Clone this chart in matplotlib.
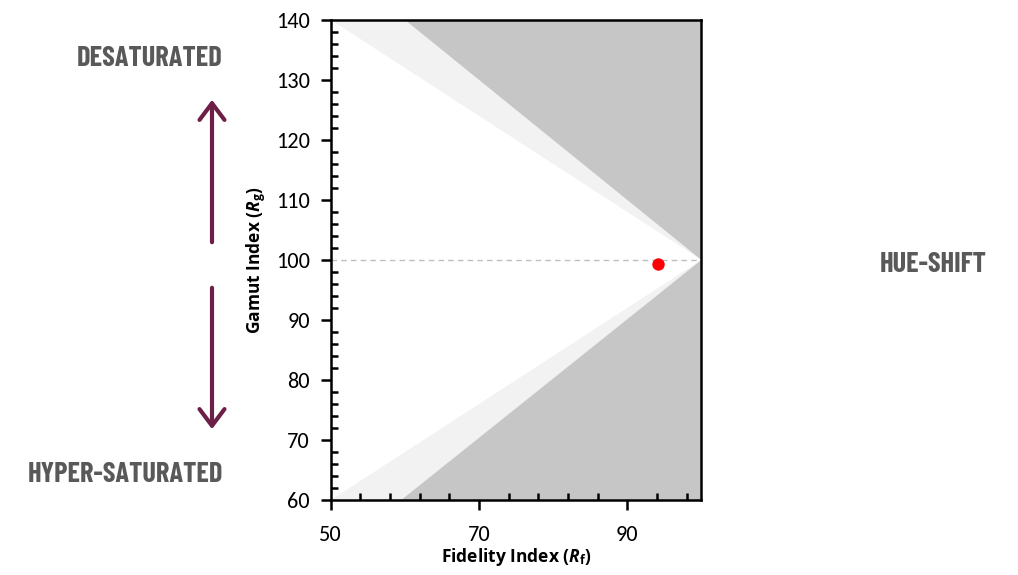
import matplotlib
matplotlib.use("Agg")
import matplotlib.pyplot as plt
from matplotlib.ticker import FixedLocator, MultipleLocator
from matplotlib.patches import FancyArrowPatch

# Data
upper_light_x = [50, 100, 100, 50]
upper_light_y = [140, 100, 140, 140]
upper_dark_x = [60, 100, 100]
upper_dark_y = [140, 100, 140]
lower_light_x = [50, 100, 100, 50]
lower_light_y = [60, 100, 60, 60]
lower_dark_x = [59.5, 100, 100]
lower_dark_y = [60, 100, 60]
ref_line_x = [50, 100]
ref_line_y = [100, 100]
point_rf = [94.1]
point_rg = [99.3]
x_ticks = [50, 70, 90]
x_minor = [54, 58, 62, 66, 74, 78, 82, 86, 94, 98]
y_ticks = [60, 70, 80, 90, 100, 110, 120, 130, 140]
region_labels = ['DESATURATED', 'HYPER-SATURATED', 'HUE-SHIFT']

plt.rcParams['mathtext.fontset'] = 'custom'
plt.rcParams['mathtext.rm'] = 'Open Sans'
plt.rcParams['mathtext.it'] = 'Open Sans:italic'
plt.rcParams['mathtext.bf'] = 'Open Sans:bold'
plt.rcParams['mathtext.bfit'] = 'Open Sans:italic:bold'

fig = plt.figure(figsize=(10.18, 5.75), dpi=100)
ax = fig.add_axes([0.325, 0.1304, 0.364, 0.835])

light = '#f2f2f2'
dark = '#c6c6c6'
ax.fill(upper_light_x, upper_light_y, color=light, lw=0, zorder=0.5)
ax.fill(lower_light_x, lower_light_y, color=light, lw=0, zorder=0.5)
ax.fill(upper_dark_x, upper_dark_y, color=dark, lw=0, zorder=0.6)
ax.fill(lower_dark_x, lower_dark_y, color=dark, lw=0, zorder=0.6)
ax.plot(ref_line_x, ref_line_y, ls=(0, (4, 3)), color='#bfbfbf', lw=1, zorder=3)
ax.scatter(point_rf, point_rg, s=80, color='#ff0000', zorder=5, lw=0)

ax.set_xlim(50, 100)
ax.set_ylim(60, 140)
ax.set_xticks(x_ticks)
ax.set_yticks(y_ticks)
ax.xaxis.set_minor_locator(FixedLocator(x_minor))
ax.yaxis.set_minor_locator(MultipleLocator(2))
ax.tick_params(which='major', direction='out', length=7, width=1.8, labelsize=16,
               colors='black')
ax.tick_params(axis='y', which='major', pad=8)
ax.tick_params(axis='x', which='major', pad=11)
ax.tick_params(which='minor', direction='in', length=5, width=1.8)
for lab in ax.get_xticklabels() + ax.get_yticklabels():
    lab.set_fontfamily(['Carlito', 'Open Sans'])
for s in ax.spines.values():
    s.set_linewidth(1.8)
    s.set_color('black')
    s.set_zorder(4)

ax.set_xlabel(r'Fidelity Index ($\mathbfit{R}_\mathbf{f}$)', fontsize=12.5,
              fontweight='bold', family='Open Sans', labelpad=1)
ax.set_ylabel(r'Gamut Index ($\mathbfit{R}_\mathbf{g}$)', fontsize=12.5,
              fontweight='bold', family='Open Sans', labelpad=6)

txt_kw = dict(color='#595959', fontsize=20.5, fontweight='bold',
              family=['Barlow Condensed', 'DejaVu Sans'], va='center')
fig.text(223 / 1018, 1 - 58 / 575, region_labels[0], ha='right', **txt_kw)
fig.text(223 / 1018, 1 - 474 / 575, region_labels[1], ha='right', **txt_kw)
fig.text(933 / 1018, 1 - 265 / 575, region_labels[2], ha='center', **txt_kw)

arrow_col = '#6e1f48'
for y0, y1 in [(245, 97), (285, 432)]:
    fig.patches.append(FancyArrowPatch(
        (212 / 1018, 1 - y0 / 575), (212 / 1018, 1 - y1 / 575), transform=fig.transFigure,
        arrowstyle='->,head_length=8,head_width=6', lw=3, color=arrow_col,
        mutation_scale=1.5))

fig.savefig('out.png', dpi=100)
